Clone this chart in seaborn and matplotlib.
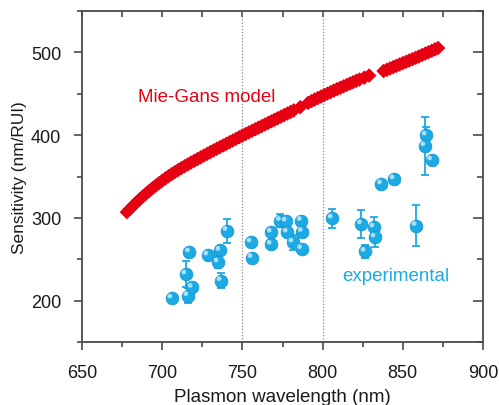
import numpy as np
import pandas as pd
import matplotlib
matplotlib.use("Agg")
import matplotlib.pyplot as plt
import matplotlib.transforms as mtransforms
from matplotlib.ticker import MultipleLocator
import seaborn as sns

# ---------------- data ----------------
model_wavelength = [678, 680, 682, 684, 686, 688, 690, 692, 694, 696, 698, 700,
                    702, 704, 706, 708, 710, 712, 714, 716, 718, 720, 722, 724,
                    726, 728, 730, 732, 734, 736, 738, 740, 742, 744, 746, 748,
                    750, 752, 754, 756, 758, 760, 762, 764, 766, 768, 770, 772,
                    774, 776, 778, 780, 782, 786,
                    791, 793, 795, 797, 799, 801, 803, 805, 807, 809, 811, 813,
                    815, 817, 819, 821, 823, 826, 829,
                    838, 840, 842, 844, 846, 848, 850, 852, 854, 856, 858, 860,
                    862, 864, 866, 868, 870, 872]
model_sensitivity = [307, 311, 315, 318.8, 322.5, 326, 329.4, 332.7, 335.9, 339, 342, 344.9,
                     347.7, 350.4, 353, 355.5, 357.9, 360.2, 362.5, 364.7, 366.9, 369, 371.1, 373.2,
                     375.3, 377.4, 379.5, 381.5, 383.5, 385.5, 387.5, 389.5, 391.5, 393.5, 395.5, 397.5,
                     399.5, 401.4, 403.3, 405.2, 407.1, 409, 410.9, 412.8, 414.7, 416.6, 418.5, 420.4,
                     422.3, 424.2, 426.1, 428, 429.9, 433.7,
                     439, 441, 443, 444.8, 446.6, 448.4, 450.2, 452, 453.8, 455.5, 457.2, 458.9,
                     460.6, 462.3, 464, 465.6, 467.2, 469.5, 472,
                     477.5, 479, 480.6, 482.2, 483.8, 485.4, 487, 488.6, 490.2, 491.8, 493.4, 495.1,
                     496.8, 498.5, 500.2, 501.9, 503.6, 505.3]

exp_wavelength = [706, 716, 718.7, 714.8, 717, 728.5, 736, 734.8, 736.7, 740.4,
                  755.4, 756, 768, 768, 773.75, 777.3, 778, 781.5, 786.7, 787.3,
                  786.9, 806, 824.2, 826.5, 832, 832.7, 836.7, 844.6, 858.3, 864.6,
                  863.75, 868]
exp_sensitivity = [203, 206, 216, 232, 258.7, 255, 260.6, 246.6, 224, 284.7,
                   270.7, 252, 282.7, 268, 296.8, 296, 282.7, 270.7, 296.8, 283.5,
                   262.7, 299.6, 292.8, 259.4, 288.8, 276.7, 341, 347, 290.7, 400,
                   387, 370]
exp_error = [0, 9, 5, 16, 0, 0, 4, 7, 9, 14.5,
             4, 0, 5, 0, 8, 0, 0, 9, 0, 0,
             0, 11.7, 17, 8, 12, 12, 0, 0, 25, 10,
             35, 0]

x_ticks = [650, 700, 750, 800, 850, 900]
y_ticks = [200, 300, 400, 500]
x_label = "Plasmon wavelength (nm)"
y_label = "Sensitivity (nm/RUI)"
model_text = "Mie-Gans model"
exp_text = "experimental"
guide_lines = [750, 800]

# ---------------- style ----------------
RED = "#E60012"
BLUE = "#1BAAE4"
AXC = "#4a4a4a"

sns.set_theme(style="ticks")
plt.rcParams["font.family"] = ["Liberation Sans", "DejaVu Sans"]

fig = plt.figure(figsize=(4.99, 4.06), dpi=100)
ax = fig.add_axes([82 / 499, 1 - 343 / 406, (483 - 82) / 499, (343 - 12) / 406])

model_df = pd.DataFrame({"wl": model_wavelength, "s": model_sensitivity})
exp_df = pd.DataFrame({"wl": exp_wavelength, "s": exp_sensitivity, "err": exp_error})

for g in guide_lines:
    ax.axvline(g, color="#888888", ls=(0, (1, 1.5)), lw=0.9, zorder=1)

sns.scatterplot(data=model_df, x="wl", y="s", marker="D", s=55, color=RED,
                edgecolor="none", linewidth=0, ax=ax, zorder=3, legend=False)

eb = exp_df[exp_df["err"] > 0]
ax.errorbar(eb["wl"], eb["s"], yerr=eb["err"], fmt="none", ecolor=BLUE,
            elinewidth=1.3, capsize=3, capthick=1.3, zorder=4)

sns.scatterplot(data=exp_df, x="wl", y="s", marker="o", s=85, color=BLUE,
                edgecolor="#1592CC", linewidth=0.5, ax=ax, zorder=5, legend=False)
# specular highlight
hl = ax.transData + mtransforms.ScaledTranslation(-1.5 / 72, 1.5 / 72, fig.dpi_scale_trans)
ax.scatter(exp_df["wl"], exp_df["s"], s=12, color="#a6e0f8", edgecolor="none",
           transform=hl, zorder=6)

ax.set_xlim(650, 900)
ax.set_ylim(150, 550)
ax.set_xticks(x_ticks)
ax.set_yticks(y_ticks)
ax.xaxis.set_minor_locator(MultipleLocator(25))
ax.yaxis.set_minor_locator(MultipleLocator(50))

for sp in ax.spines.values():
    sp.set_visible(True)
    sp.set_color(AXC)
    sp.set_linewidth(1.3)

ax.tick_params(which="major", direction="out", length=6, width=1.2, color=AXC,
               labelsize=13, labelcolor="#1a1a1a")
ax.tick_params(which="minor", direction="out", length=3.5, width=1.2, color=AXC)
ax.tick_params(axis="x", which="major", pad=10)
ax.tick_params(axis="y", which="major", pad=9)

top = ax.secondary_xaxis("top")
top.set_xticks(x_ticks)
top.xaxis.set_minor_locator(MultipleLocator(25))
top.tick_params(which="both", direction="in", length=4, width=1.2, color=AXC,
                labeltop=False)
top.spines["top"].set_visible(False)
right = ax.secondary_yaxis("right")
right.set_yticks(y_ticks)
right.yaxis.set_minor_locator(MultipleLocator(50))
right.tick_params(which="major", direction="in", length=7, width=1.2, color=AXC,
                  labelright=False)
right.tick_params(which="minor", direction="in", length=4, width=1.2, color=AXC,
                  labelright=False)
right.spines["right"].set_visible(False)

ax.set_xlabel(x_label, fontsize=13.5, color="#1a1a1a", labelpad=5)
ax.set_ylabel(y_label, fontsize=12.4, color="#1a1a1a", labelpad=3)

ax.text(684.8, 447, model_text, color=RED, fontsize=13.5, va="center", ha="left")
ax.text(812.3, 230.5, exp_text, color=BLUE, fontsize=13.5, va="center", ha="left")

fig.savefig("out.png", dpi=100)
